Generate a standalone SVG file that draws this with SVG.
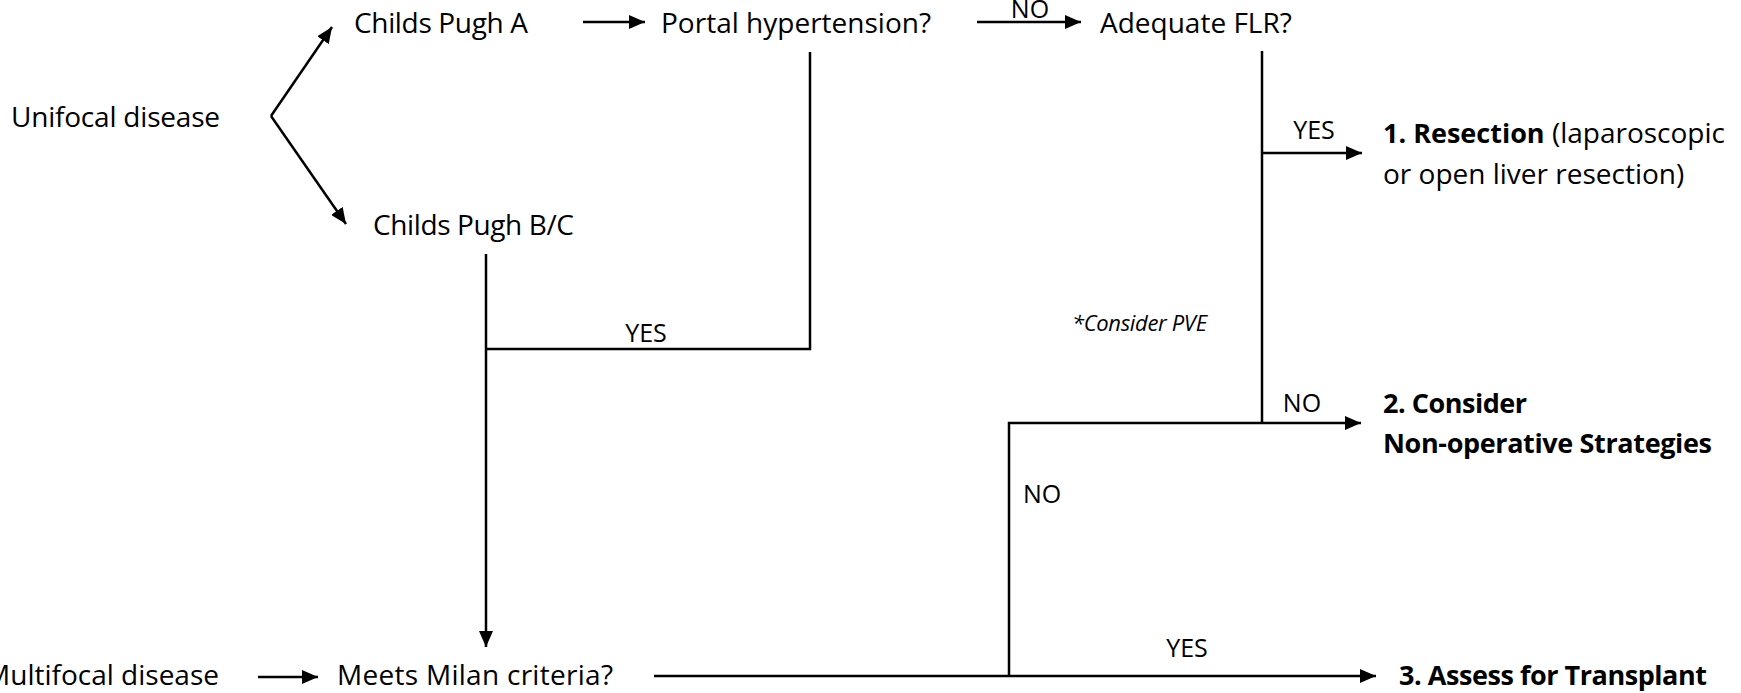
<svg xmlns="http://www.w3.org/2000/svg" width="1741" height="693" viewBox="0 0 1741 693">
<defs>
<style>
text{font-family:"Open Sans","Liberation Sans",sans-serif;font-size:28px;fill:#000}
.b{font-weight:bold;font-size:27px}
.lbl{font-size:25px}
.note{font-style:italic;font-size:22px}
.c{fill:none;stroke:#000;stroke-width:2.5}
</style>
<marker id="ah" markerUnits="userSpaceOnUse" markerWidth="18" markerHeight="14" refX="16" refY="7" orient="auto">
<path d="M0,0 L16,7 L0,14 Z" fill="#000"/>
</marker>
</defs>
<rect width="1741" height="693" fill="#fff"/>
<g id="connectors">
<path class="c" d="M271,116 L332,27" marker-end="url(#ah)"/>
<path class="c" d="M271,116 L346,224" marker-end="url(#ah)"/>
<path class="c" d="M583,22 L645,22" marker-end="url(#ah)"/>
<path class="c" d="M977,22 L1081,22" marker-end="url(#ah)"/>
<path class="c" d="M810,52 L810,349 L486,349"/>
<path class="c" d="M486,254 L486,647" marker-end="url(#ah)"/>
<path class="c" d="M1262,51 L1262,423"/>
<path class="c" d="M1262,153 L1362,153" marker-end="url(#ah)"/>
<path class="c" d="M1009,676 L1009,423 L1361,423" marker-end="url(#ah)"/>
<path class="c" d="M654,676 L1376,676" marker-end="url(#ah)"/>
<path class="c" d="M258,677 L318,677" marker-end="url(#ah)"/>
<text class="lbl" x="1030" y="18" text-anchor="middle">NO</text>
<text class="lbl" x="646" y="342" text-anchor="middle">YES</text>
<text class="lbl" x="1314" y="139" text-anchor="middle">YES</text>
<text class="lbl" x="1302" y="412" text-anchor="middle">NO</text>
<text class="lbl" x="1023" y="503">NO</text>
<text class="lbl" x="1187" y="657" text-anchor="middle">YES</text>
</g>
<g id="unifocal"><text x="11" y="127" textLength="209">Unifocal disease</text></g>
<g id="cpa"><text x="354" y="33" textLength="174">Childs Pugh A</text></g>
<g id="cpbc"><text x="373" y="235" textLength="201">Childs Pugh B/C</text></g>
<g id="portal"><text x="661" y="33" textLength="270">Portal hypertension?</text></g>
<g id="flr"><text x="1100" y="33">Adequate FLR?</text></g>
<g id="pve"><text class="note" x="1072" y="331" textLength="135">*Consider PVE</text></g>
<g id="resection"><text x="1383" y="143"><tspan class="b">1. Resection</tspan> (laparoscopic</text><text x="1383" y="184">or open liver resection)</text></g>
<g id="nonop"><text class="b" x="1383" y="413" textLength="144">2. Consider</text><text class="b" x="1383" y="453" textLength="329">Non-operative Strategies</text></g>
<g id="transplant"><text class="b" x="1399" y="685" textLength="308">3. Assess for Transplant</text></g>
<g id="milan"><text x="337" y="685" textLength="276">Meets Milan criteria?</text></g>
<g id="multifocal"><text x="219" y="685" text-anchor="end">Multifocal disease</text></g>
</svg>
